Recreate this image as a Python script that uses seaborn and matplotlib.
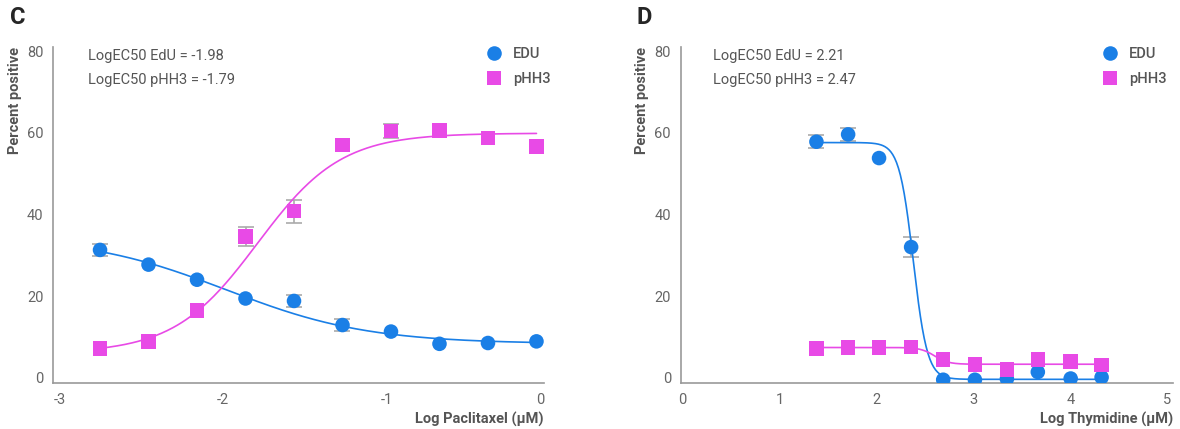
import numpy as np
import pandas as pd
import matplotlib
matplotlib.use('Agg')
import matplotlib.pyplot as plt
import seaborn as sns

# Panel C: paclitaxel
pac_x = [-2.755, -2.458, -2.161, -1.864, -1.567, -1.27, -0.973, -0.676, -0.379, -0.082]
pac_edu = [31.3, 27.7, 24.0, 19.4, 18.8, 12.9, 11.3, 8.3, 8.5, 8.9]
pac_edu_err = [1.5, 0, 0, 0, 1.5, 1.5, 0, 0, 0, 0]
pac_phh3 = [7.1, 8.9, 16.5, 34.6, 40.8, 57.0, 60.4, 60.5, 58.7, 56.7]
pac_phh3_err = [0, 0, 0, 2.4, 2.8, 0, 1.8, 0, 0, 0]

# Panel D: thymidine
thy_x = [1.381, 1.708, 2.027, 2.358, 2.689, 3.016, 3.346, 3.665, 4.004, 4.323]
thy_edu = [57.8, 59.6, 53.8, 32.0, -0.5, -0.5, -0.3, 1.4, -0.2, 0.1]
thy_edu_err = [1.6, 1.5, 0, 2.4, 0, 0, 0, 0, 0, 0]
thy_phh3 = [7.2, 7.4, 7.4, 7.5, 4.5, 3.2, 2.0, 4.4, 3.9, 3.1]
thy_phh3_err = [0, 0, 0, 0, 0, 0, 0, 0, 0, 0]

# fitted 4PL curve parameters: bottom, top, logEC50, hill (sign = direction)
fit_c = {'EDU': (8.3, 34.7, -1.98, -1.0), 'pHH3': (6.0, 59.9, -1.79, 1.7)}
fit_d = {'EDU': (-0.4, 57.6, 2.38, -6.0), 'pHH3': (3.3, 7.4, 2.60, -6.0)}

ec50_c = ['LogEC50 EdU = -1.98', 'LogEC50 pHH3 = -1.79']
ec50_d = ['LogEC50 EdU = 2.21', 'LogEC50 pHH3 = 2.47']

blue = '#1a7fe6'
pink = '#e84ae6'
palette = {'EDU': blue, 'pHH3': pink}
markers = {'EDU': 'o', 'pHH3': 's'}

sns.set_style('white')
plt.rcParams['font.family'] = ['Roboto', 'DejaVu Sans']
plt.rcParams['axes.unicode_minus'] = False

fig = plt.figure(figsize=(11.8, 4.29), dpi=100)
ax_c = fig.add_axes([0.0452, 0.1072, 0.4158, 0.7832])
ax_d = fig.add_axes([0.5768, 0.1072, 0.4173, 0.7832])


def logistic(x, p):
    bottom, top, logec, hill = p
    return bottom + (top - bottom) / (1 + 10 ** ((logec - x) * hill))


def draw(ax, x, edu, edu_err, phh3, phh3_err, fits, texts, xlabel, xlim,
         text_x, legend_x):
    df = pd.DataFrame({'x': x * 2,
                       'y': edu + phh3,
                       'err': edu_err + phh3_err,
                       'marker': ['EDU'] * len(x) + ['pHH3'] * len(x)})
    # error bars
    e = df[df['err'] > 0]
    ax.errorbar(e['x'], e['y'], yerr=e['err'], fmt='none', ecolor='#aaaaaa',
                elinewidth=1.2, capsize=6, capthick=1.2, zorder=1)
    # fitted curves
    for name in ['EDU', 'pHH3']:
        xs = np.linspace(min(x), max(x), 300)
        sns.lineplot(x=xs, y=logistic(xs, fits[name]), ax=ax, color=palette[name],
                     lw=1.2, zorder=2, legend=False)
    sns.scatterplot(data=df, x='x', y='y', hue='marker', style='marker',
                    palette=palette, markers=markers, s=110, linewidth=0,
                    ax=ax, zorder=3)
    ax.legend(title=None, frameon=False, loc='upper right', bbox_to_anchor=(legend_x, 1.04),
              handletextpad=0.3, labelspacing=0.75, markerscale=1.0,
              prop={'size': 10.5, 'weight': 'medium'}, labelcolor='#555555')
    ax.text(text_x, 0.972, texts[0], transform=ax.transAxes, ha='left', va='center',
            fontsize=10.5, color='#555555')
    ax.text(text_x, 0.903, texts[1], transform=ax.transAxes, ha='left', va='center',
            fontsize=10.5, color='#555555')
    ax.set_xlim(*xlim)
    ax.set_ylim(-1.3, 81)
    ax.set_yticks([0, 20, 40, 60, 80])
    ax.set_xlabel(xlabel, loc='right', fontsize=10.5, fontweight='bold', color='#555555',
                  labelpad=4)
    ax.set_ylabel('Percent positive', loc='top', fontsize=10.5, fontweight='bold',
                  color='#555555', labelpad=4)
    ax.tick_params(axis='both', length=0, labelsize=10.5, labelcolor='#666666', pad=7)
    sns.despine(ax=ax)
    for s in ['left', 'bottom']:
        ax.spines[s].set_color('#999999')
        ax.spines[s].set_linewidth(1.2)


draw(ax_c, pac_x, pac_edu, pac_edu_err, pac_phh3, pac_phh3_err, fit_c, ec50_c,
     'Log Paclitaxel (µM)', (-3.041, -0.036), 0.071, 1.04)
draw(ax_d, thy_x, thy_edu, thy_edu_err, thy_phh3, thy_phh3_err, fit_d, ec50_d,
     'Log Thymidine (µM)', (-0.02, 5.06), 0.066, 1.014)

# the last label on panel C sits at the axis end, as in the source chart
ax_c.set_xticks([-3, -2, -1, -0.036], labels=['-3', '-2', '-1', '0'])
ax_c.get_xticklabels()[-1].set_horizontalalignment('right')
ax_d.set_xticks([0, 1, 2, 3, 4, 5])

fig.text(10 / 1180, 1 - 18 / 429, 'C', fontsize=17, fontweight='bold', ha='left', va='center')
fig.text(637 / 1180, 1 - 18 / 429, 'D', fontsize=17, fontweight='bold', ha='left', va='center')

fig.savefig('out.png', dpi=100)
